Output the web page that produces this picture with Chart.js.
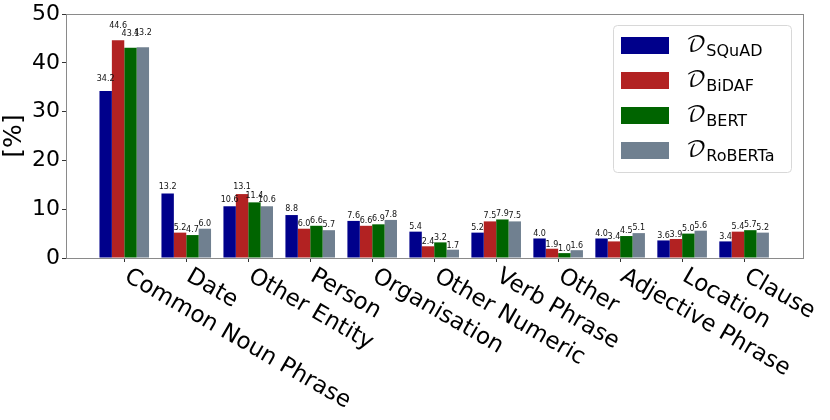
<!DOCTYPE html>
<html><head><meta charset="utf-8">
<script src="https://cdn.jsdelivr.net/npm/chart.js@4/dist/chart.umd.min.js"></script>
<style>html,body{margin:0;padding:0;background:#fff}#wrap{width:830px;height:420px;position:relative}</style>
</head><body><div id="wrap"><canvas id="c" width="830" height="420"></canvas></div>
<script>
const categories = ['Common Noun Phrase','Date','Other Entity','Person','Organisation','Other Numeric','Verb Phrase','Other','Adjective Phrase','Location','Clause'];
const seriesNames = ['SQuAD','BiDAF','BERT','RoBERTa'];
const squad   = [34.2,13.2,10.6,8.8,7.6,5.4,5.2,4.0,4.0,3.6,3.4];
const bidaf   = [44.6,5.2,13.1,6.0,6.6,2.4,7.5,1.9,3.4,3.9,5.4];
const bert    = [43.1,4.7,11.4,6.6,6.9,3.2,7.9,1.0,4.5,5.0,5.7];
const roberta = [43.2,6.0,10.6,5.7,7.8,1.7,7.5,1.6,5.1,5.6,5.2];
const yTicks = [0,10,20,30,40,50];
const yLabel = '[%]';
const colors = ['#00008b','#b22222','#006400','#708090'];

const FONT = "'DejaVu Sans', sans-serif";

const frame = {
  id:'frame',
  afterDraw(chart){
    const {ctx, chartArea:a} = chart;
    ctx.save();
    ctx.strokeStyle = '#8a8a8a'; ctx.lineWidth = 1;
    ctx.strokeRect(Math.round(a.left)+0.5, Math.round(a.top)+0.5, Math.round(a.right-a.left), Math.round(a.bottom-a.top));
    ctx.restore();
  }
};

const valueLabels = {
  id:'valueLabels',
  afterDatasetsDraw(chart){
    const {ctx} = chart; const ys = chart.scales.y;
    ctx.save();
    ctx.font = '8px ' + FONT; ctx.fillStyle = '#111';
    ctx.textAlign = 'center'; ctx.textBaseline = 'alphabetic';
    chart.data.datasets.forEach((ds, di) => {
      const meta = chart.getDatasetMeta(di);
      meta.data.forEach((bar, i) => {
        const v = ds.data[i];
        ctx.fillText(v.toFixed(1), bar.x, ys.getPixelForValue(v*1.05) - 1.5);
      });
    });
    ctx.restore();
  }
};

const xLabels = {
  id:'xLabels',
  afterDraw(chart){
    const {ctx} = chart; const xs = chart.scales.x; const a = chart.chartArea;
    ctx.save();
    ctx.font = '23px ' + FONT; ctx.fillStyle = '#000';
    ctx.textAlign = 'left'; ctx.textBaseline = 'alphabetic';
    categories.forEach((c, i) => {
      const x = xs.getPixelForTick(i);
      ctx.save();
      ctx.translate(x - 1, a.bottom + 22);
      ctx.rotate(30*Math.PI/180);
      ctx.fillText(c, 0, 0);
      ctx.restore();
    });
    // y axis title
    ctx.save();
    ctx.font = '25px ' + FONT; ctx.textAlign = 'center'; ctx.textBaseline = 'middle';
    ctx.translate(14, (a.top + a.bottom)/2);
    ctx.rotate(-Math.PI/2);
    ctx.fillText(yLabel, 0, 0);
    ctx.restore();
    ctx.restore();
  }
};

const legendBox = {
  id:'legendBox',
  afterDraw(chart){
    const {ctx} = chart;
    const L = 613, T = 25, W = 178, H = 147, r = 4;
    ctx.save();
    ctx.fillStyle = 'rgba(255,255,255,0.85)';
    ctx.strokeStyle = '#d8d8d8'; ctx.lineWidth = 1;
    ctx.beginPath();
    ctx.roundRect(L+0.5, T+0.5, W, H, r);
    ctx.fill(); ctx.stroke();
    seriesNames.forEach((n, i) => {
      const cy = 45 + i*35;
      ctx.fillStyle = colors[i];
      ctx.fillRect(621, cy - 8, 48, 17);
      ctx.fillStyle = '#000';
      ctx.textAlign = 'left'; ctx.textBaseline = 'alphabetic';
      ctx.font = "22px 'DejaVu Math TeX Gyre', 'DejaVu Serif', serif";
      ctx.fillText('\u{1D49F}', 686, cy + 7);
      const w = ctx.measureText('\u{1D49F}').width;
      ctx.font = '16px ' + FONT;
      ctx.fillText(n, 686 + w + 0, cy + 11);
    });
    ctx.restore();
  }
};

const datasets = [squad, bidaf, bert, roberta].map((d, i) => ({
  label: seriesNames[i], data: d, backgroundColor: colors[i], borderWidth: 0,
  barPercentage: 1.0, categoryPercentage: 0.8
}));

new Chart(document.getElementById('c'), {
  type: 'bar',
  data: { labels: categories, datasets },
  options: {
    responsive: false, animation: false, devicePixelRatio: 1,
    layout: { padding: { left: 0, right: 27, top: 14, bottom: 0 } },
    plugins: { legend: { display: false }, tooltip: { enabled: false } },
    scales: {
      x: {
        type: 'category', offset: false,
        grid: { display: true, offset: false, drawOnChartArea: false, drawTicks: true, tickLength: 4, color: '#333' },
        border: { display: false },
        ticks: { display: false },
        afterBuildTicks: s => { s._startValue = -0.94; s._valueRange = 11.89; },
        afterFit: s => { s.height = 162; s.paddingLeft = 0; s.paddingRight = 0; }
      },
      y: {
        min: 0, max: 50,
        afterBuildTicks: s => { s.ticks = yTicks.map(v => ({ value: v })); },
        grid: { drawOnChartArea: false, drawTicks: true, tickLength: 4, color: '#333' },
        border: { display: false },
        ticks: { font: { family: 'DejaVu Sans', size: 22 }, color: '#000', padding: 2 },
        afterFit: s => { s.width = 66; s.paddingTop = 0; s.paddingBottom = 0; }
      }
    }
  },
  plugins: [frame, valueLabels, xLabels, legendBox]
});
</script>
</body></html>
